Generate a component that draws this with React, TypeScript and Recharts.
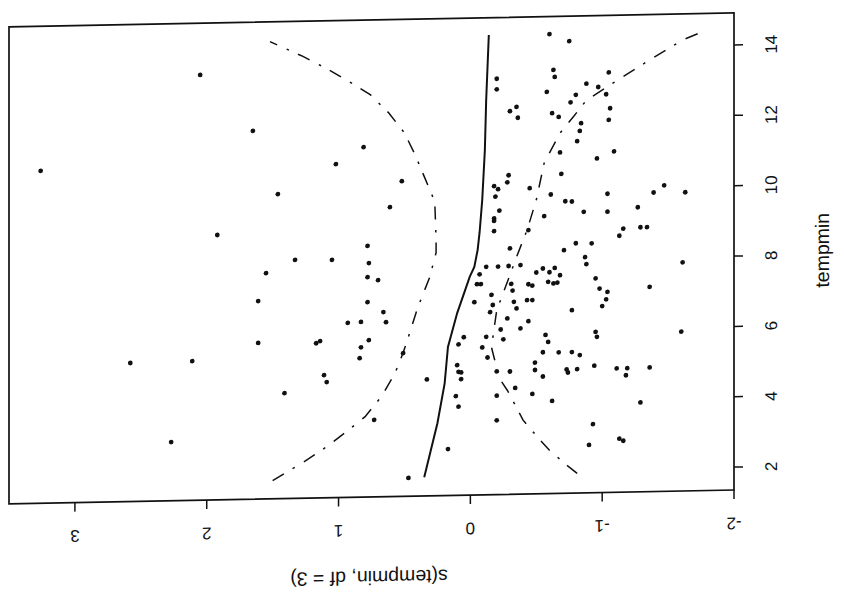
import React from "react";
import { ScatterChart, Scatter, XAxis, YAxis, ReferenceArea } from "recharts";

// ---- tick labels ----
const xTicks = [3, 2, 1, 0, -1, -2];
const yTicks = [2, 4, 6, 8, 10, 12, 14];
const xTitle = "s(tempmin, df = 3)";
const yTitle = "tempmin";

// ---- partial residual points: s(tempmin) value and tempmin ----
const pointResid = [
  2.05, 3.26, 1.65, 0.81, 1.02, 0.52, 1.46, 0.61, 1.92, 0.78, 1.33, 1.05, 0.77, 1.55, 0.78, 0.70,
  1.61, 0.78, 0.66, 0.93, 0.83, 0.64, 1.61, 1.17, 1.14, 0.77, 0.83, 0.84, 0.51, 2.58, 2.11, 1.11,
  1.09, 1.41, 0.73, 2.27, 0.47, 0.33,
  -0.60, -0.75, -0.63, -0.64, -1.05, -0.20, -0.20, -0.58, -0.88, -0.97, -1.03, -0.80, -0.76, -0.30,
  -0.35, -0.36, -0.62, -0.67, -1.06, -1.05, -0.84, -0.83, -0.81, -0.68, -0.96, -1.09, -0.69, -0.29,
  -0.28, -0.18, -0.21, -0.19, -0.45, -0.61, -0.72, -0.77, -1.04, -0.86, -1.04, -1.27, -1.39, -1.47,
  -1.63, -0.22, -0.18, -0.18, -0.56, -0.18, -0.44, -1.16, -1.13, -1.29, -1.34, -0.30, -0.71, -0.80,
  -0.92, -0.87, -0.88, -1.61, -0.07, -0.12, -0.21, -0.29, -0.38, -0.50, -0.55, -0.60, -0.64, -0.68,
  -0.59, -0.63, -0.66, -0.05, -0.08, -0.31, -0.44, -0.47, -0.32, -0.95, -0.98, -1.04, -1.03, -1.00,
  -1.36, -0.16, -0.03, -0.33, -0.43, -0.47, -0.17, -0.35, -0.15, -0.77, -0.28, -0.44, -0.23, -0.38,
  -0.57, -0.59, -0.95, -0.96, -1.60, 0.05, 0.09, -0.12, -0.25, -0.09, -0.13, -0.55, -0.67, -0.77,
  -0.83, 0.10, 0.09, 0.07, 0.07, -0.20, -0.30, -0.49, -0.49, -0.55, -0.73, -0.74, -0.81, -0.94,
  -1.11, -1.19, -1.18, -1.36, 0.11, 0.09, -0.20, -0.34, -0.47, -0.62, -1.29, -0.93, -0.20, 0.17,
  -0.90, -1.13, -1.16,
];
const pointTempmin = [
  13.44, 10.80, 11.82, 11.30, 10.83, 10.31, 10.01, 9.58, 8.88, 8.49, 8.13, 8.11, 8.00, 7.77, 7.60, 7.51,
  6.98, 6.89, 6.60, 6.31, 6.33, 6.31, 5.79, 5.75, 5.81, 5.81, 5.61, 5.30, 5.42, 5.29, 5.31, 4.84,
  4.64, 4.35, 3.54, 3.02, 1.87, 4.66,
  14.41, 14.20, 13.39, 13.19, 13.29, 13.17, 12.87, 12.77, 12.98, 12.88, 12.67, 12.67, 12.46, 12.24,
  12.36, 12.05, 12.16, 12.05, 12.27, 11.94, 11.86, 11.64, 11.35, 11.04, 10.85, 11.04, 10.43, 10.42,
  10.22, 10.12, 10.03, 9.82, 10.04, 9.85, 9.65, 9.64, 9.84, 9.34, 9.33, 9.44, 9.85, 10.05,
  9.84, 9.42, 9.20, 9.13, 9.24, 8.84, 8.85, 8.84, 8.64, 8.87, 8.87, 8.34, 8.26, 8.45,
  8.44, 8.05, 7.85, 7.85, 7.62, 7.83, 7.83, 7.84, 7.86, 7.64, 7.75, 7.64, 7.76, 7.55,
  7.37, 7.32, 7.34, 7.34, 7.34, 7.33, 7.31, 7.27, 7.14, 7.44, 7.15, 7.05, 6.84, 6.65,
  7.17, 7.03, 6.83, 6.82, 6.86, 6.86, 6.74, 6.63, 6.54, 6.55, 6.35, 6.26, 6.04, 6.06,
  5.86, 5.66, 5.92, 5.78, 5.88, 5.84, 5.64, 5.84, 5.76, 5.54, 5.25, 5.37, 5.36, 5.36,
  5.27, 5.05, 4.86, 4.84, 4.65, 4.85, 4.84, 5.08, 4.87, 4.68, 4.87, 4.78, 4.87, 4.96,
  4.87, 4.87, 4.67, 4.88, 4.17, 3.87, 4.16, 4.37, 4.19, 3.98, 3.89, 3.30, 3.46, 2.67,
  2.71, 2.87, 2.81,
];

// ---- fitted smooth ----
const fitTempmin = [1.88, 3.41, 4.54, 5.57, 6.53, 7.55, 7.83, 8.31, 8.81, 9.73, 11.15, 12.57, 14.42];
const fitValue = [0.35, 0.25, 0.195, 0.17, 0.10, 0.005, -0.03, -0.055, -0.07, -0.09, -0.11, -0.12, -0.14];

// ---- upper band (+2 se) ----
const upperTempmin = [1.87, 2.39, 2.80, 3.22, 3.63, 4.22, 4.87, 5.43, 5.88, 6.70, 7.55, 8.26, 8.63, 9.71, 10.34, 11.06, 11.68, 12.26, 12.79, 13.17, 13.55, 13.91, 14.35];
const upperValue = [1.50, 1.26, 1.09, 0.94, 0.80, 0.67, 0.57, 0.51, 0.47, 0.40, 0.31, 0.26, 0.26, 0.27, 0.34, 0.42, 0.50, 0.62, 0.76, 0.92, 1.09, 1.27, 1.52];

// ---- lower band (-2 se) ----
const lowerTempmin = [1.91, 2.15, 2.58, 2.87, 3.45, 4.31, 4.65, 5.54, 6.59, 7.58, 8.09, 8.85, 9.70, 10.75, 11.59, 12.04, 12.51, 13.07, 13.62, 14.17, 14.39];
const lowerValue = [-0.81, -0.73, -0.60, -0.53, -0.40, -0.28, -0.22, -0.16, -0.20, -0.30, -0.35, -0.43, -0.50, -0.56, -0.68, -0.78, -0.88, -1.12, -1.36, -1.61, -1.76];

const X_DOMAIN: [number, number] = [-2, 3.5];
const Y_DOMAIN: [number, number] = [1.35, 14.91];

const points = pointResid.map((r, i) => ({ x: r, y: pointTempmin[i] }));
const fitData = fitValue.map((v, i) => ({ x: v, y: fitTempmin[i] }));
const upperData = upperValue.map((v, i) => ({ x: v, y: upperTempmin[i] }));
const lowerData = lowerValue.map((v, i) => ({ x: v, y: lowerTempmin[i] }));

const FONT = '"Liberation Sans", Arial, Helvetica, sans-serif';
const INK = "#111";

const BottomTick = (props: any) => {
  const { x, y, payload } = props;
  const cy = y + 22;
  return (
    <text x={x} y={cy} transform={`rotate(180 ${x} ${cy})`} textAnchor="middle"
      dominantBaseline="central" fontSize={17} fill={INK} fontFamily={FONT}>
      {payload.value}
    </text>
  );
};

const RightTick = (props: any) => {
  const { x, y, payload } = props;
  const cx = x + 27;
  return (
    <text x={cx} y={y} transform={`rotate(-90 ${cx} ${y})`} textAnchor="middle"
      dominantBaseline="central" fontSize={17} fill={INK} fontFamily={FONT}>
      {payload.value}
    </text>
  );
};

const XTitle = () => (
  <text x={369} y={571} transform="rotate(180 369 571)" textAnchor="middle"
    dominantBaseline="central" fontSize={19.5} fill={INK} fontFamily={FONT}>
    {xTitle}
  </text>
);

const YTitle = () => (
  <text x={822} y={252} transform="rotate(-90 822 252)" textAnchor="middle"
    dominantBaseline="central" fontSize={19.5} fill={INK} fontFamily={FONT}>
    {yTitle}
  </text>
);

const Dot = (props: any) => {
  const { cx, cy } = props;
  if (cx == null || cy == null) return <g />;
  return <circle cx={cx} cy={cy} r={2.4} fill={INK} />;
};

const NoShape = () => <g />;

export default function App() {
  return (
    <div
      style={{
        position: "absolute",
        left: 0,
        top: 0,
        width: 844,
        height: 600,
        background: "#fff",
        transform: "skewY(-1.1deg)",
        transformOrigin: "733px 0px",
      }}
    >
      <ScatterChart width={844} height={600} margin={{ top: 13, left: 9, right: 0, bottom: 0 }}>
        <XAxis
          type="number"
          dataKey="x"
          domain={X_DOMAIN}
          reversed
          allowDataOverflow
          ticks={xTicks}
          interval={0}
          height={110}
          axisLine={false}
          tickSize={9}
          tickLine={{ stroke: INK, strokeWidth: 1.5 }}
          tick={<BottomTick />}
          label={<XTitle />}
        />
        <YAxis
          type="number"
          dataKey="y"
          domain={Y_DOMAIN}
          orientation="right"
          allowDataOverflow
          ticks={yTicks}
          interval={0}
          width={110}
          axisLine={false}
          tickSize={9}
          tickLine={{ stroke: INK, strokeWidth: 1.5 }}
          tick={<RightTick />}
          label={<YTitle />}
        />
        <ReferenceArea
          x1={X_DOMAIN[0]}
          x2={X_DOMAIN[1]}
          y1={Y_DOMAIN[0]}
          y2={Y_DOMAIN[1]}
          fill="none"
          fillOpacity={0}
          stroke={INK}
          strokeWidth={1.7}
          ifOverflow="visible"
        />
        <Scatter
          data={upperData}
          line={{ stroke: INK, strokeWidth: 1.5, strokeDasharray: "13 10 2.5 10.5" }}
          shape={<NoShape />}
          isAnimationActive={false}
        />
        <Scatter
          data={lowerData}
          line={{ stroke: INK, strokeWidth: 1.5, strokeDasharray: "13 10 2.5 10.5" }}
          shape={<NoShape />}
          isAnimationActive={false}
        />
        <Scatter
          data={fitData}
          line={{ stroke: INK, strokeWidth: 2 }}
          shape={<NoShape />}
          isAnimationActive={false}
        />
        <Scatter data={points} shape={<Dot />} fill={INK} isAnimationActive={false} />
      </ScatterChart>
    </div>
  );
}
